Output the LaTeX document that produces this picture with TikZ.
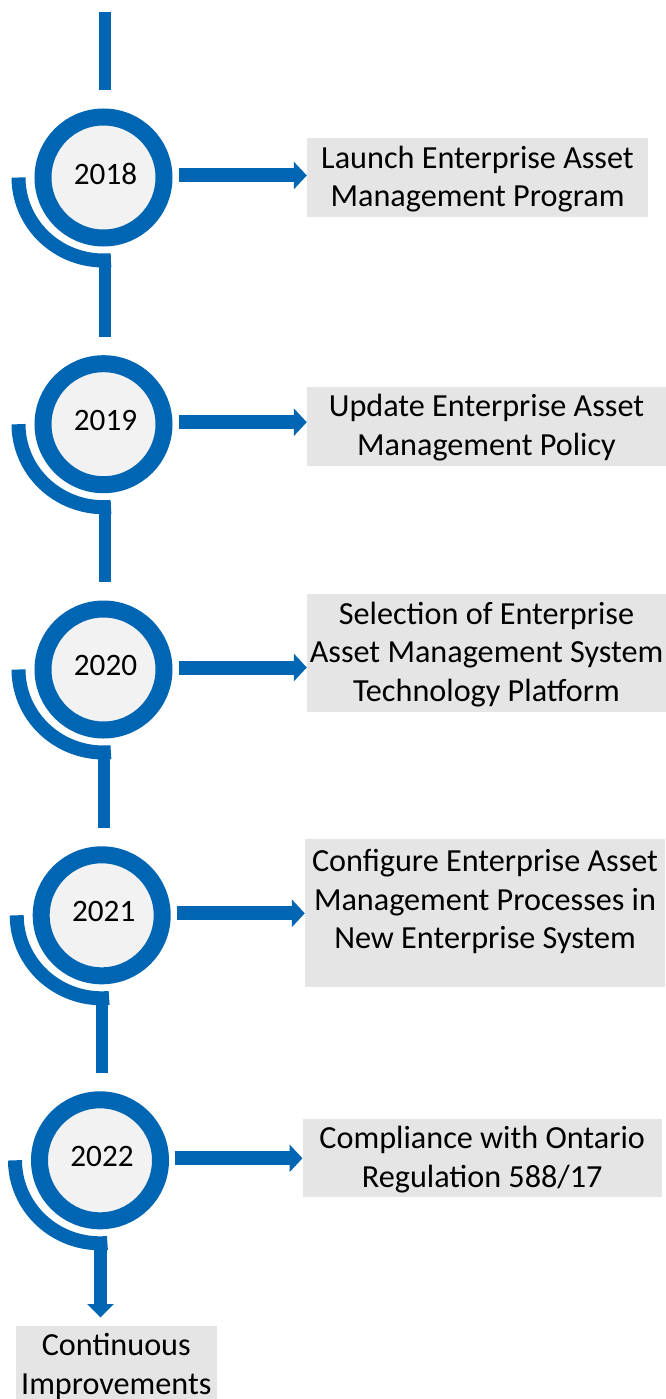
\documentclass[tikz,border=0pt]{standalone}
\usepackage{fontspec}
\setmainfont{Carlito}
\usetikzlibrary{arrows.meta,calc}
\definecolor{tlblue}{RGB}{0,102,179}
\definecolor{ringfill}{RGB}{242,242,242}
\definecolor{boxgray}{RGB}{229,229,229}
\newcommand{\bs}{\rule[-9.5pt]{0pt}{38.5pt}}
\newcommand{\yr}[1]{\hspace*{4pt}#1\rule[-8pt]{0pt}{8pt}}
\begin{document}
\begin{tikzpicture}[x=1pt,y=-1pt,
  year/.style={circle, draw=tlblue, line width=17pt, fill=ringfill, minimum size=121pt, inner sep=0pt, font=\fontsize{31.2}{38}\selectfont},
  box/.style={fill=boxgray, inner sep=0pt, align=center, font=\fontsize{32.2}{38.5}\selectfont},
  boxtext/.style={inner sep=0pt, align=center, font=\fontsize{32.2}{38.5}\selectfont},
  vline/.style={draw=tlblue, line width=12pt},
  hook/.style={draw=tlblue, line width=14pt},
  harrow/.style={draw=tlblue, line width=14pt, -{Triangle[width=27pt,length=13pt]}},
  varrow/.style={draw=tlblue, line width=12.4pt, -{Triangle[width=26pt,length=13.3pt]}},
]
\useasboundingbox (0,0) rectangle (666,1399);

% year circles
\node[year] (c1) at (103.5,177.5) {\yr{2018}};
\node[year] (c2) at (103.5,424.2) {\yr{2019}};
\node[year] (c3) at (103.5,669.5) {\yr{2020}};
\node[year] (c4) at (101.7,915.3) {\yr{2021}};
\node[year] (c5) at (100,1160.3) {\yr{2022}};

% hooks
\foreach \c in {c1,c2,c3,c4,c5}{
  \draw[hook] ($(\c.center)+(-85,0)$) arc[start angle=180, end angle=275, x radius=85pt, y radius=83pt];
}

% boxes
\node[box, minimum width=341pt, minimum height=78.4pt] (b1) at (477.5,177.5) {\bs Launch Enterprise Asset\\\bs Management Program};
\node[box, minimum width=359pt, minimum height=79pt] (b2) at (486.5,426.2) {\bs Update Enterprise Asset\\\bs Management Policy};
\node[box, minimum width=359pt, minimum height=117.7pt] (b3) at (486.5,652.8) {\bs Selection of Enterprise\\\bs Asset Management System\\\bs Technology Platform};
\node[box, minimum width=360pt, minimum height=148pt] (b4) at (485,913) {};
\node[boxtext] (t4) at (485,900.5) {\bs Configure Enterprise Asset\\\bs Management Processes in\\\bs New Enterprise System};
\node[box, minimum width=359pt, minimum height=78pt] (b5) at (482.2,1158.3) {\bs Compliance with Ontario\\\bs Regulation 588/17};
\node[box, minimum width=200.7pt, minimum height=78pt, anchor=north] (bC) at (116.3,1326) {\bs Continuous\\\bs Improvements};

% horizontal arrows
\foreach \i in {1,...,5}{
  \coordinate (a\i) at ($(c\i.east)+(6,-2)$);
  \draw[harrow] (a\i) -- (a\i -| b\i.west);
}

% vertical connectors
\coordinate (top) at (105,12);
\draw[vline] (top) -- ($(c1.center)+(1.5,-87.5)$);
\draw[vline] ($(c1.center)+(1.5,77)$) -- ($(c2.center)+(1.5,-87)$);
\draw[vline] ($(c2.center)+(1.5,77.5)$) -- ($(c3.center)+(1.5,-87.5)$);
\draw[vline] ($(c3.center)+(0,77)$) -- ($(c3.center |- c4.center)+(0,-87.5)$);
\draw[vline] ($(c4.center)+(0,77.5)$) -- ($(c4.center |- c5.center)+(0,-87.5)$);
\coordinate (d5) at ($(c5.center)+(0.5,76.5)$);
\draw[varrow, shorten >=8.7pt] (d5) -- (d5 |- bC.north);
\end{tikzpicture}
\end{document}
